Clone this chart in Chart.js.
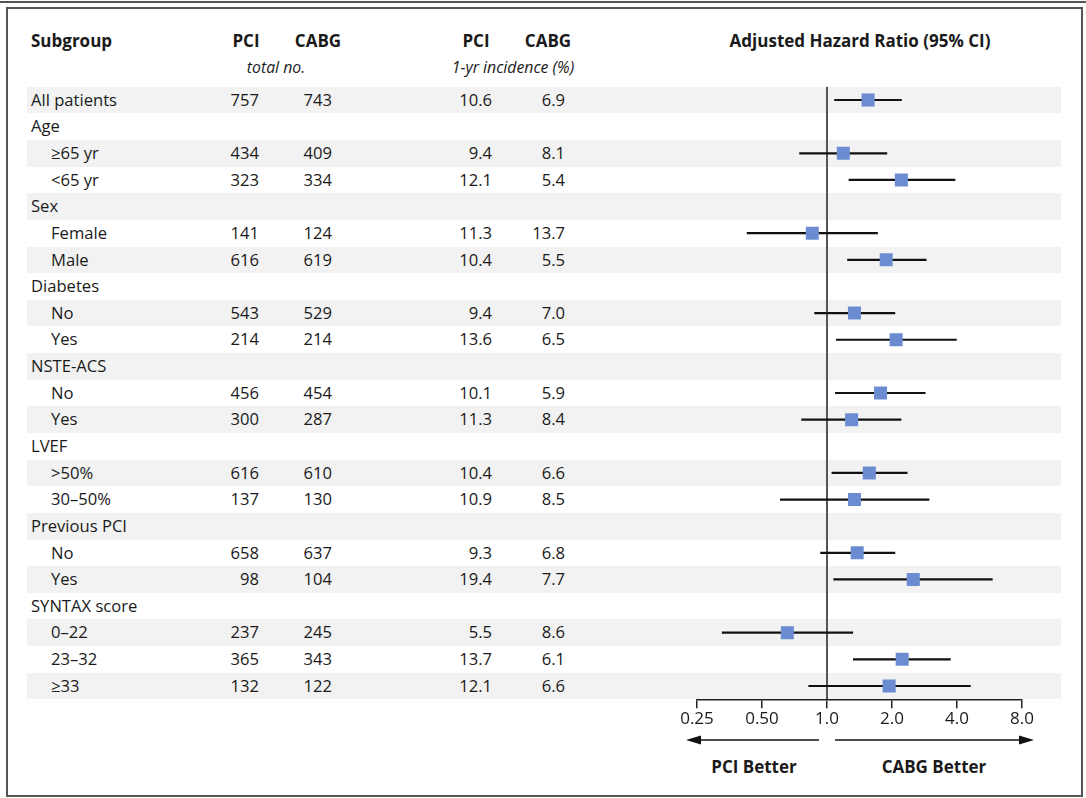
<!DOCTYPE html>
<html>
<head>
<meta charset="utf-8">
<script src="https://cdn.jsdelivr.net/npm/chart.js@4"></script>
<style>
  html, body { margin:0; padding:0; background:#fff; }
  body { width:1086px; height:798px; position:relative; overflow:hidden;
         font-family:"Open Sans", "DejaVu Sans", sans-serif; color:#1a1a1a; font-size:16.6px; }
  .abs { position:absolute; white-space:nowrap; }
  .stripe { position:absolute; background:#f2f2f2; }
  .b { font-weight:700; font-size:17px; }
  .i { font-style:italic; font-size:15.8px; }
  #c { position:absolute; left:0; top:0; }
</style>
</head>
<body>
<div class="abs" style="left:0;top:1px;width:1086px;height:2px;background:#555;"></div>
<div class="abs" style="left:6px;top:7px;width:1077px;height:790px;border:2px solid #555;box-sizing:border-box;"></div>
<div id="rows"></div>
<canvas id="c" width="1086" height="798"></canvas>
<svg class="abs" style="left:0;top:0;" width="1086" height="798">
  <line x1="697" y1="740" x2="819" y2="740" stroke="#111" stroke-width="1.5"/>
  <polygon points="686,740 701,735.5 701,744.5" fill="#111"/>
  <line x1="835" y1="740" x2="1020" y2="740" stroke="#111" stroke-width="1.5"/>
  <polygon points="1034,740 1019,735.5 1019,744.5" fill="#111"/>
</svg>
<script>
const subgroups = ["All patients","Age","\u226565 yr","<65 yr","Sex","Female","Male","Diabetes","No","Yes","NSTE-ACS","No","Yes","LVEF",">50%","30\u201350%","Previous PCI","No","Yes","SYNTAX score","0\u201322","23\u201332","\u226533"];
const indent    = [0,0,1,1,0,1,1,0,1,1,0,1,1,0,1,1,0,1,1,0,1,1,1];
const pciTotal  = [757,null,434,323,null,141,616,null,543,214,null,456,300,null,616,137,null,658,98,null,237,365,132];
const cabgTotal = [743,null,409,334,null,124,619,null,529,214,null,454,287,null,610,130,null,637,104,null,245,343,122];
const pciInc    = [10.6,null,9.4,12.1,null,11.3,10.4,null,9.4,13.6,null,10.1,11.3,null,10.4,10.9,null,9.3,19.4,null,5.5,13.7,12.1];
const cabgInc   = [6.9,null,8.1,5.4,null,13.7,5.5,null,7.0,6.5,null,5.9,8.4,null,6.6,8.5,null,6.8,7.7,null,8.6,6.1,6.6];
const hr        = [1.55,null,1.19,2.21,null,0.855,1.88,null,1.34,2.09,null,1.77,1.30,null,1.57,1.34,null,1.38,2.51,null,0.655,2.23,1.94];
const ciLow     = [1.08,null,0.744,1.26,null,0.425,1.24,null,0.873,1.10,null,1.09,0.76,null,1.05,0.606,null,0.931,1.07,null,0.326,1.32,0.82];
const ciHigh    = [2.22,null,1.90,3.93,null,1.72,2.89,null,2.07,3.99,null,2.86,2.21,null,2.36,2.98,null,2.07,5.85,null,1.32,3.74,4.63];
const tickValues = [0.25,0.5,1,2,4,8];
const tickLabels = ["0.25","0.50","1.0","2.0","4.0","8.0"];

// layout constants
const ROW0 = 100, ROWH = 26.64;
const rowsEl = document.getElementById('rows');
function add(text, style, cls) {
  const d = document.createElement('div');
  d.className = 'abs ' + (cls || '');
  d.setAttribute('style', style);
  d.textContent = text;
  rowsEl.appendChild(d);
  return d;
}
// headers
add("Subgroup", "left:31px;top:29px;", "b");
add("PCI", "left:196px;width:100px;text-align:center;top:29px;", "b");
add("CABG", "left:268px;width:100px;text-align:center;top:29px;", "b");
add("total no.", "left:226px;width:100px;text-align:center;top:56px;", "i");
add("PCI", "left:426px;width:100px;text-align:center;top:29px;", "b");
add("CABG", "left:498px;width:100px;text-align:center;top:29px;", "b");
add("1-yr incidence (%)", "left:413px;width:200px;text-align:center;top:56px;", "i");
add("Adjusted Hazard Ratio (95% CI)", "left:710px;width:300px;text-align:center;top:29px;", "b");
add("PCI Better", "left:684px;width:140px;text-align:center;top:755px;", "b");
add("CABG Better", "left:864px;width:140px;text-align:center;top:755px;", "b");

for (let i = 0; i < subgroups.length; i++) {
  const top = ROW0 + i * ROWH - ROWH / 2;
  if (i % 2 === 0) {
    const s = document.createElement('div');
    s.className = 'stripe';
    s.setAttribute('style', `left:27px;width:1034px;top:${top}px;height:${ROWH}px;`);
    rowsEl.appendChild(s);
  }
  const lh = `top:${top}px;height:${ROWH}px;line-height:${ROWH}px;`;
  add(subgroups[i], `left:${indent[i] ? 51 : 31}px;` + lh);
  if (pciTotal[i] !== null) {
    add(String(pciTotal[i]), `left:159px;width:100px;text-align:right;` + lh);
    add(String(cabgTotal[i]), `left:232px;width:100px;text-align:right;` + lh);
    add(pciInc[i].toFixed(1), `left:392px;width:100px;text-align:right;` + lh);
    add(cabgInc[i].toFixed(1), `left:465px;width:100px;text-align:right;` + lh);
  }
}
document.getElementById('c').style.zIndex = 2;
document.querySelector('svg').style.zIndex = 3;

// datasets
const datasets = [];
datasets.push({
  label: 'HR',
  data: hr.map((v, i) => v === null ? null : { x: v, y: i }).filter(p => p),
  pointStyle: 'rect', pointRadius: 9.2, pointHoverRadius: 9.2,
  backgroundColor: '#6b8cd0', borderWidth: 0, showLine: false, order: 0
});
for (let i = 0; i < hr.length; i++) {
  if (hr[i] === null) continue;
  datasets.push({
    label: 'CI ' + i,
    data: [{ x: ciLow[i], y: i }, { x: ciHigh[i], y: i }],
    showLine: true, borderColor: '#111', borderWidth: 2.2, pointRadius: 0, order: 1
  });
}
datasets.push({
  label: 'ref',
  data: [{ x: 1, y: -0.5 }, { x: 1, y: subgroups.length - 0.5 }],
  showLine: true, borderColor: '#555', borderWidth: 2, pointRadius: 0, order: 2
});

const AXIS_H = 30;
new Chart(document.getElementById('c'), {
  type: 'scatter',
  data: { datasets },
  options: {
    responsive: false, animation: false, devicePixelRatio: 1,
    layout: { padding: { left: 697, right: 64, top: 86.7, bottom: 798 - 699.3 - AXIS_H } },
    plugins: { legend: { display: false }, tooltip: { enabled: false } },
    scales: {
      x: {
        type: 'logarithmic', min: 0.25, max: 8, position: 'bottom',
        afterBuildTicks: s => { s.ticks = tickValues.map(v => ({ value: v })); },
        afterFit: s => { s.height = AXIS_H; },
        ticks: {
          autoSkip: false, maxRotation: 0, padding: 1,
          color: '#1a1a1a', font: { family: '"Open Sans", sans-serif', size: 17 },
          callback: (v, idx) => tickLabels[idx]
        },
        grid: { drawOnChartArea: false, drawTicks: true, tickLength: 9, color: '#222', lineWidth: 1.5 },
        border: { display: true, color: '#222', width: 1.5 }
      },
      y: { type: 'linear', min: -0.5, max: subgroups.length - 0.5, reverse: true, display: false }
    }
  }
});
</script>
</body>
</html>
